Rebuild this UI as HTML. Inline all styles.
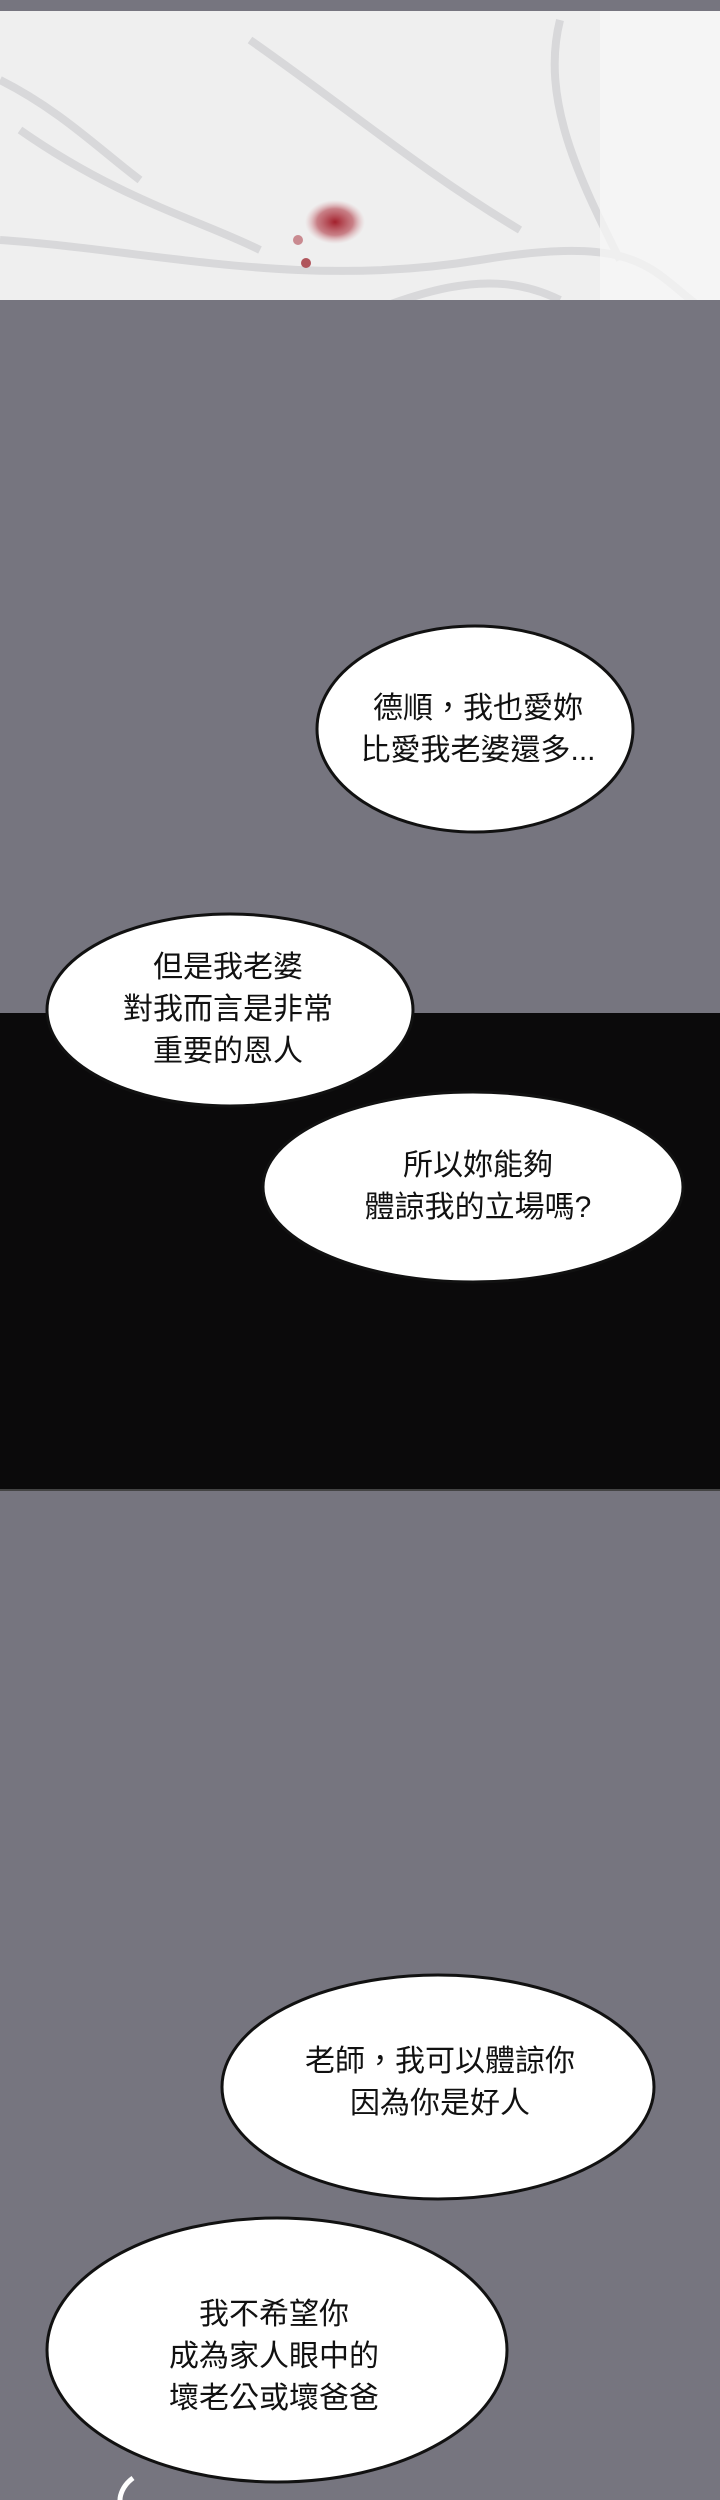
<!DOCTYPE html>
<html><head><meta charset="utf-8"><style>
html,body{margin:0;padding:0}
body{width:720px;height:2500px;position:relative;overflow:hidden;background:#76757f;font-family:"Liberation Sans","Noto Sans CJK TC",sans-serif}
svg{position:absolute;left:0;top:0}
.t{position:absolute;text-align:center;color:#111;font-size:30px;line-height:42px;white-space:nowrap;transform:translate(-50%,-50%)}
</style></head><body>
<svg width="720" height="2500">
  <defs>
    <radialGradient id="blood" cx="0.5" cy="0.5" r="0.5">
      <stop offset="0" stop-color="#a3202c"/><stop offset="0.6" stop-color="#b8505a" stop-opacity="0.7"/><stop offset="1" stop-color="#d9a0a5" stop-opacity="0"/>
    </radialGradient>
    <clipPath id="snowclip"><rect x="0" y="11" width="720" height="289"/></clipPath>
  </defs>
  <rect x="0" y="11" width="720" height="289" fill="#efefef"/>
  <g stroke="#d6d6d8" stroke-width="8" fill="none" opacity="0.9" clip-path="url(#snowclip)">
    <path d="M0 240 C150 250 300 290 480 260 S650 280 720 320"/>
    <path d="M20 130 C120 200 200 220 260 250"/>
    <path d="M250 40 C350 110 420 170 520 230"/>
    <path d="M560 20 C540 100 580 180 620 260"/>
    <path d="M0 80 C60 110 100 150 140 180"/>
    <path d="M300 340 C400 300 480 260 560 300"/>
    <rect x="600" y="11" width="120" height="289" fill="#f9f9f9" stroke="none" opacity="0.7"/>
  </g>
  <ellipse cx="335" cy="222" rx="30" ry="22" fill="url(#blood)"/>
  <circle cx="306" cy="263" r="5" fill="#b0555c"/>
  <circle cx="298" cy="240" r="5" fill="#c98a90"/>
  <rect x="0" y="1013" width="720" height="477" fill="#0b0a0b"/>
  <line x1="0" y1="1490" x2="720" y2="1490" stroke="#444" stroke-width="2"/>
  <g fill="#fff" stroke="#111" stroke-width="3">
    <ellipse cx="475" cy="729" rx="158" ry="103"/>
    <ellipse cx="230" cy="1010" rx="183" ry="96"/>
    <ellipse cx="473" cy="1187" rx="210" ry="95"/>
    <ellipse cx="438" cy="2087" rx="216" ry="112"/>
    <ellipse cx="277" cy="2350" rx="230" ry="132"/>
  </g>
  <path d="M133 2478 C122 2486 120 2496 120 2500" stroke="#fff" stroke-width="5" fill="none"/>
</svg>
<div class="t" style="left:478px;top:730px">德順，我也愛妳<br>比愛我老婆還多...</div>
<div class="t" style="left:228px;top:1010px">但是我老婆<br>對我而言是非常<br>重要的恩人</div>
<div class="t" style="left:478px;top:1187px">所以妳能夠<br>體諒我的立場嗎?</div>
<div class="t" style="left:440px;top:2083px">老師，我可以體諒你<br>因為你是好人</div>
<div class="t" style="left:274px;top:2357px">我不希望你<br>成為家人眼中的<br>壞老公或壞爸爸</div>
</body></html>
